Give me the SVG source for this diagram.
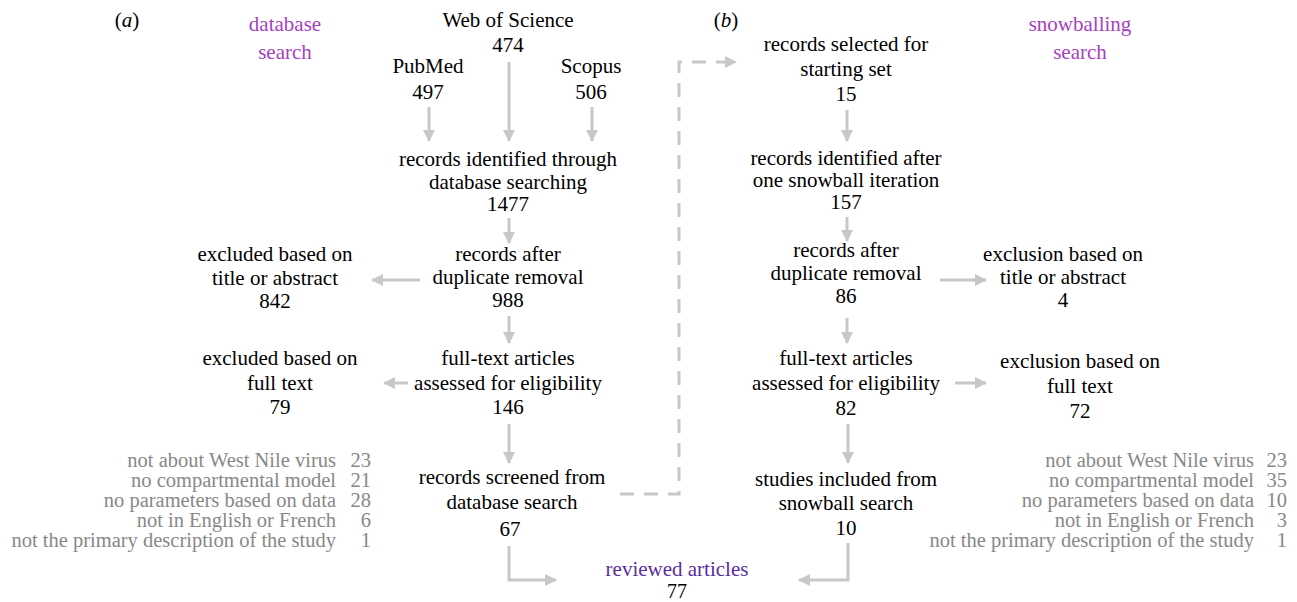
<svg xmlns="http://www.w3.org/2000/svg" width="1297" height="602" viewBox="0 0 1297 602" font-family="'Liberation Serif', 'DejaVu Serif', serif">
<style>
text{font-family:'Liberation Serif','DejaVu Serif',serif;font-size:21px;fill:#000;text-anchor:middle}
.g{fill:#888;font-size:20.5px;text-anchor:end}
.m{fill:#a63fbf}
.p{fill:#5b2d9e}
.c{fill:none;stroke:#c8c8c8;stroke-width:3}
.d{stroke-dasharray:14 10}
</style>
<defs>
<marker id="ah" markerUnits="userSpaceOnUse" markerWidth="14" markerHeight="14" refX="11" refY="6" orient="auto">
<path d="M0,0 L12,6 L0,12 Z" fill="#c8c8c8"/>
</marker>
</defs>
<rect width="1297" height="602" fill="#fff"/>
<g id="labels">
<text x="127" y="27">(<tspan font-style="italic">a</tspan>)</text>
<text x="726" y="27">(<tspan font-style="italic">b</tspan>)</text>
<text class="m" x="285" y="31">database</text>
<text class="m" x="285" y="59">search</text>
<text class="m" x="1080" y="31">snowballing</text>
<text class="m" x="1080" y="59">search</text>
</g>
<g id="wos"><text x="508" y="27">Web of Science</text><text x="508" y="52">474</text></g>
<g id="pubmed"><text x="428" y="73">PubMed</text><text x="428" y="99">497</text></g>
<g id="scopus"><text x="591" y="73">Scopus</text><text x="591" y="99">506</text></g>
<g id="identified"><text x="508" y="166">records identified through</text><text x="508" y="189">database searching</text><text x="508" y="211">1477</text></g>
<g id="dedup-a"><text x="508" y="261">records after</text><text x="508" y="284">duplicate removal</text><text x="508" y="307">988</text></g>
<g id="excl-ta-a"><text x="275" y="261">excluded based on</text><text x="275" y="285">title or abstract</text><text x="275" y="308">842</text></g>
<g id="fulltext-a"><text x="508" y="365">full-text articles</text><text x="508" y="390">assessed for eligibility</text><text x="508" y="414">146</text></g>
<g id="excl-ft-a"><text x="280" y="365">excluded based on</text><text x="280" y="390">full text</text><text x="280" y="414">79</text></g>
<g id="reasons-a">
<text class="g" x="336" y="467">not about West Nile virus</text><text class="g" x="371" y="467">23</text>
<text class="g" x="336" y="487">no compartmental model</text><text class="g" x="371" y="487">21</text>
<text class="g" x="336" y="507">no parameters based on data</text><text class="g" x="371" y="507">28</text>
<text class="g" x="336" y="527">not in English or French</text><text class="g" x="371" y="527">6</text>
<text class="g" x="336" y="547">not the primary description of the study</text><text class="g" x="371" y="547">1</text>
</g>
<g id="screened-a"><text x="512" y="484">records screened from</text><text x="512" y="509">database search</text><text x="510" y="536">67</text></g>
<g id="reviewed"><text class="p" x="677" y="576">reviewed articles</text><text x="677" y="598" style="font-size:20px">77</text></g>
<g id="start-b"><text x="846" y="51">records selected for</text><text x="846" y="76">starting set</text><text x="846" y="101">15</text></g>
<g id="iter-b"><text x="846" y="165">records identified after</text><text x="846" y="187">one snowball iteration</text><text x="846" y="209">157</text></g>
<g id="dedup-b"><text x="846" y="257">records after</text><text x="846" y="280">duplicate removal</text><text x="846" y="303">86</text></g>
<g id="excl-ta-b"><text x="1063" y="261">exclusion based on</text><text x="1063" y="284">title or abstract</text><text x="1063" y="307">4</text></g>
<g id="fulltext-b"><text x="846" y="365">full-text articles</text><text x="846" y="390">assessed for eligibility</text><text x="846" y="415">82</text></g>
<g id="excl-ft-b"><text x="1080" y="368">exclusion based on</text><text x="1080" y="393">full text</text><text x="1080" y="418">72</text></g>
<g id="reasons-b">
<text class="g" x="1254" y="467">not about West Nile virus</text><text class="g" x="1287" y="467">23</text>
<text class="g" x="1254" y="487">no compartmental model</text><text class="g" x="1287" y="487">35</text>
<text class="g" x="1254" y="507">no parameters based on data</text><text class="g" x="1287" y="507">10</text>
<text class="g" x="1254" y="527">not in English or French</text><text class="g" x="1287" y="527">3</text>
<text class="g" x="1254" y="547">not the primary description of the study</text><text class="g" x="1287" y="547">1</text>
</g>
<g id="included-b"><text x="846" y="486">studies included from</text><text x="846" y="510">snowball search</text><text x="846" y="535">10</text></g>
<g id="connectors">
<path class="c" d="M429,107 V141" marker-end="url(#ah)"/>
<path class="c" d="M509,62 V141" marker-end="url(#ah)"/>
<path class="c" d="M592,107 V141" marker-end="url(#ah)"/>
<path class="c" d="M509,218 V243" marker-end="url(#ah)"/>
<path class="c" d="M420,280 H372" marker-end="url(#ah)"/>
<path class="c" d="M509,316 V343" marker-end="url(#ah)"/>
<path class="c" d="M408,383 H384" marker-end="url(#ah)"/>
<path class="c" d="M509,424 V463" marker-end="url(#ah)"/>
<path class="c d" d="M620,494 H679 V62 H736" marker-end="url(#ah)"/>
<path class="c" d="M509,546 V580 H556" marker-end="url(#ah)"/>
<path class="c" d="M848,543 V580 H799" marker-end="url(#ah)"/>
<path class="c" d="M847,110 V141" marker-end="url(#ah)"/>
<path class="c" d="M847,217 V241" marker-end="url(#ah)"/>
<path class="c" d="M940,280 H986" marker-end="url(#ah)"/>
<path class="c" d="M847,318 V343" marker-end="url(#ah)"/>
<path class="c" d="M955,383 H986" marker-end="url(#ah)"/>
<path class="c" d="M848,424 V463" marker-end="url(#ah)"/>
</g>
</svg>
